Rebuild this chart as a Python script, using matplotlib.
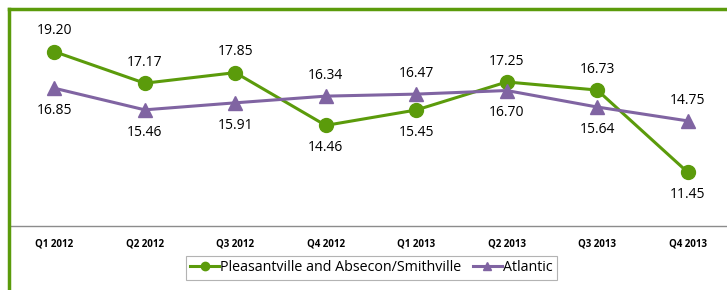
import matplotlib.pyplot as plt
from matplotlib.lines import Line2D

# Datos
quarters = ["Q1 2012", "Q2 2012", "Q3 2012", "Q4 2012",
            "Q1 2013", "Q2 2013", "Q3 2013", "Q4 2013"]
pleasantville = [19.20, 17.17, 17.85, 14.46, 15.45, 17.25, 16.73, 11.45]
atlantic = [16.85, 15.46, 15.91, 16.34, 16.47, 16.70, 15.64, 14.75]

green = "#5b9b0b"
purple = "#8064a2"

plt.rcParams['font.family'] = ['Open Sans', 'DejaVu Sans']

fig = plt.figure(figsize=(7.27, 2.90), dpi=100)
ax = fig.add_axes([9 / 727, 64 / 290, 724 / 727, 218 / 290])

x = list(range(len(quarters)))
ax.plot(x, pleasantville, color=green, lw=2.2, marker="o", ms=10,
        label="Pleasantville and Absecon/Smithville")
ax.plot(x, atlantic, color=purple, lw=2.2, marker="^", ms=10,
        label="Atlantic")

# Etiquetas: la serie mas alta arriba, la otra abajo
for i in x:
    g, a = pleasantville[i], atlantic[i]
    g_up = g > a
    ax.annotate(f"{g:.2f}", (i, g), xytext=(0, 15 if g_up else -16),
                textcoords="offset points", ha="center", va="center",
                fontsize=10)
    ax.annotate(f"{a:.2f}", (i, a), xytext=(0, -16 if g_up else 15),
                textcoords="offset points", ha="center", va="center",
                fontsize=10)

ax.set_xlim(-0.5, 7.5)
ax.set_ylim(8, 22)
ax.set_xticks(x)
ax.set_xticklabels(quarters, fontsize=7, fontweight="bold")
ax.set_yticks([])
ax.tick_params(axis="x", length=0, pad=9)
for s in ["top", "right", "left"]:
    ax.spines[s].set_visible(False)
ax.spines["bottom"].set_color("#8c8c8c")
ax.spines["bottom"].set_linewidth(1)
ax.patch.set_alpha(0)

# Marco verde de la figura (recortado)
fig.add_artist(Line2D([8.5 / 727, 8.5 / 727], [0, 1 - 8.5 / 290],
                      transform=fig.transFigure, color=green, lw=2.5))
fig.add_artist(Line2D([8.5 / 727, 1], [1 - 8.5 / 290, 1 - 8.5 / 290],
                      transform=fig.transFigure, color=green, lw=2.5))

leg = fig.legend(loc="upper left", bbox_to_anchor=(186 / 727, 1 - 256 / 290),
                 ncol=2, fontsize=10.3, frameon=True, fancybox=False,
                 handlelength=2.0, handletextpad=0.1, columnspacing=0.8,
                 borderpad=0.3, edgecolor="#a0a0a0", borderaxespad=0,
                 markerscale=0.6)
leg.get_frame().set_linewidth(0.8)

fig.savefig("out.png", dpi=100)
